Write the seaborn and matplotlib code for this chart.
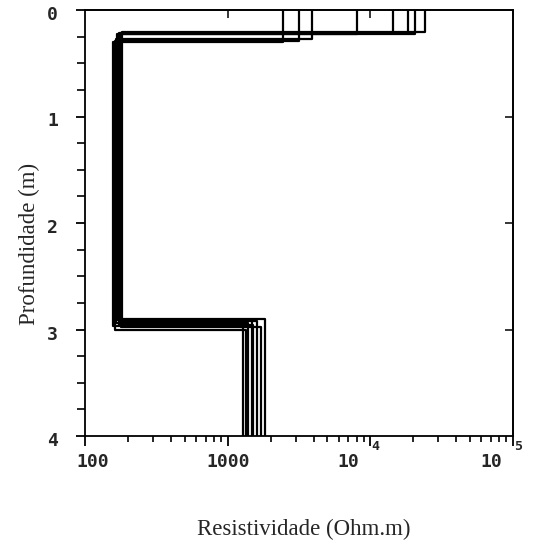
import numpy as np
import pandas as pd
import matplotlib
matplotlib.use("Agg")
import matplotlib.pyplot as plt
import matplotlib.transforms as mtransforms
from matplotlib.ticker import LogLocator, NullFormatter, MultipleLocator, NullLocator
import seaborn as sns

# Three-layer resistivity models (one per inversion)
rho1 = [2450, 3150, 3900, 8100, 14500, 18500, 20700, 24300]   # top layer (Ohm.m)
base1 = [0.30, 0.29, 0.27, 0.23, 0.22, 0.22, 0.23, 0.21]      # depth of first interface (m)
rho2 = [158, 162, 165, 168, 172, 175, 178, 181]               # middle layer (Ohm.m)
base2 = [2.97, 3.00, 2.94, 2.91, 2.96, 2.92, 2.98, 2.90]      # depth of second interface (m)
rho3 = [1275, 1340, 1390, 1480, 1510, 1610, 1700, 1815]       # bottom half-space (Ohm.m)
max_depth = 4.0

x_ticks = [100, 1000, 1e4, 1e5]
x_tick_text = ["100", "1000", "10", "10"]
x_tick_exp = ["", "", "4", "5"]
y_ticks = [0, 1, 2, 3, 4]

# Build step profiles: vertical segments inside layers, horizontal jumps at interfaces
rows = []
for m, (r1, d1, r2, d2, r3) in enumerate(zip(rho1, base1, rho2, base2, rho3)):
    pts = [(r1, 0.0), (r1, d1), (r2, d1), (r2, d2), (r3, d2), (r3, max_depth)]
    for k, (r, d) in enumerate(pts):
        rows.append({"model": m, "order": k, "rho": r, "depth": d})
df = pd.DataFrame(rows)

sns.set_style("white")
plt.rcParams["font.family"] = ["Liberation Serif", "DejaVu Serif"]

fig = plt.figure(figsize=(5.39, 5.47), dpi=100)
W, H = 539, 547
left, right, top, bottom = 85, 513, 10, 436
ax = fig.add_axes([left / W, 1 - bottom / H, (right - left) / W, (bottom - top) / H])

sns.lineplot(data=df, x="rho", y="depth", units="model", estimator=None,
             sort=False, color="black", linewidth=1.6, ax=ax, legend=False)

ax.set_xscale("log")
ax.set_xlim(100, 1e5)
ax.set_ylim(max_depth, 0)

for s in ax.spines.values():
    s.set_visible(True)
    s.set_color("black")
    s.set_linewidth(1.3)

# Bottom axis: outward decade ticks with log minor ticks, custom labels
ax.set_xticks(x_ticks)
ax.xaxis.set_minor_locator(LogLocator(base=10, subs=np.arange(2, 10)))
ax.xaxis.set_minor_formatter(NullFormatter())
ax.tick_params(axis="x", which="major", direction="out", length=7, width=1.3,
               labelbottom=False, bottom=True, top=False, color="black")
ax.tick_params(axis="x", which="minor", direction="out", length=4.5, width=1.2,
               bottom=True, top=False, color="black")

# Left axis: outward ticks every 0.25 m, labels sitting a little below each tick
ax.set_yticks(y_ticks)
ax.set_yticklabels([str(v) for v in y_ticks])
ax.yaxis.set_minor_locator(MultipleLocator(0.25))
ax.tick_params(axis="y", which="major", direction="out", length=6.5, width=1.3,
               pad=13, left=True, right=False, labelsize=13, color="black")
ax.tick_params(axis="y", which="minor", direction="out", length=5.5, width=1.2,
               left=True, right=False, color="black")
for lab in ax.get_yticklabels():
    lab.set_fontfamily("DejaVu Sans Mono")
    lab.set_fontweight("bold")
    lab.set_va("center")
    lab.set_transform(lab.get_transform() +
                      mtransforms.ScaledTranslation(0, -5 / 100, fig.dpi_scale_trans))

# Top and right: a few inward ticks, no labels
sec_top = ax.secondary_xaxis("top")
sec_top.set_xticks([1000, 1e4])
sec_top.xaxis.set_minor_locator(NullLocator())
sec_top.tick_params(axis="x", direction="in", length=6, width=1.3, labeltop=False)
sec_top.spines["top"].set_linewidth(1.3)

sec_right = ax.secondary_yaxis("right")
sec_right.set_yticks([1, 2, 3])
sec_right.yaxis.set_minor_locator(NullLocator())
sec_right.tick_params(axis="y", direction="in", length=6, width=1.3, labelright=False)
sec_right.spines["right"].set_linewidth(1.3)

# Decade labels written beneath the bottom axis
base_tf = mtransforms.blended_transform_factory(ax.transData, ax.transAxes)
label_dx = {"100": 8, "1000": 0}
for xv, txt, ex in zip(x_ticks, x_tick_text, x_tick_exp):
    if ex:
        off = mtransforms.ScaledTranslation(-22 / 100, -26 / 100, fig.dpi_scale_trans)
        ax.text(xv, 0, txt, transform=base_tf + off, ha="center", va="center",
                fontsize=13, fontweight="bold", fontfamily="DejaVu Sans Mono")
        off_e = mtransforms.ScaledTranslation(5 / 100, -11 / 100, fig.dpi_scale_trans)
        ax.text(xv, 0, ex, transform=base_tf + off_e, ha="center", va="center",
                fontsize=9.5, fontweight="bold", fontfamily="DejaVu Sans Mono")
    else:
        off = mtransforms.ScaledTranslation(label_dx[txt] / 100, -26 / 100, fig.dpi_scale_trans)
        ax.text(xv, 0, txt, transform=base_tf + off, ha="center", va="center",
                fontsize=13, fontweight="bold", fontfamily="DejaVu Sans Mono")

ax.set_xlabel("Resistividade (Ohm.m)", fontsize=16.5)
ax.set_ylabel("Profundidade (m)", fontsize=16.5)
ax.xaxis.set_label_coords((304 - left) / (right - left), (bottom - 529) / (bottom - top))
ax.yaxis.set_label_coords((29 - left) / (right - left), (bottom - 244) / (bottom - top))
ax.xaxis.label.set_va("center")
ax.yaxis.label.set_va("center")

fig.savefig("out.png", dpi=100, facecolor="white")
